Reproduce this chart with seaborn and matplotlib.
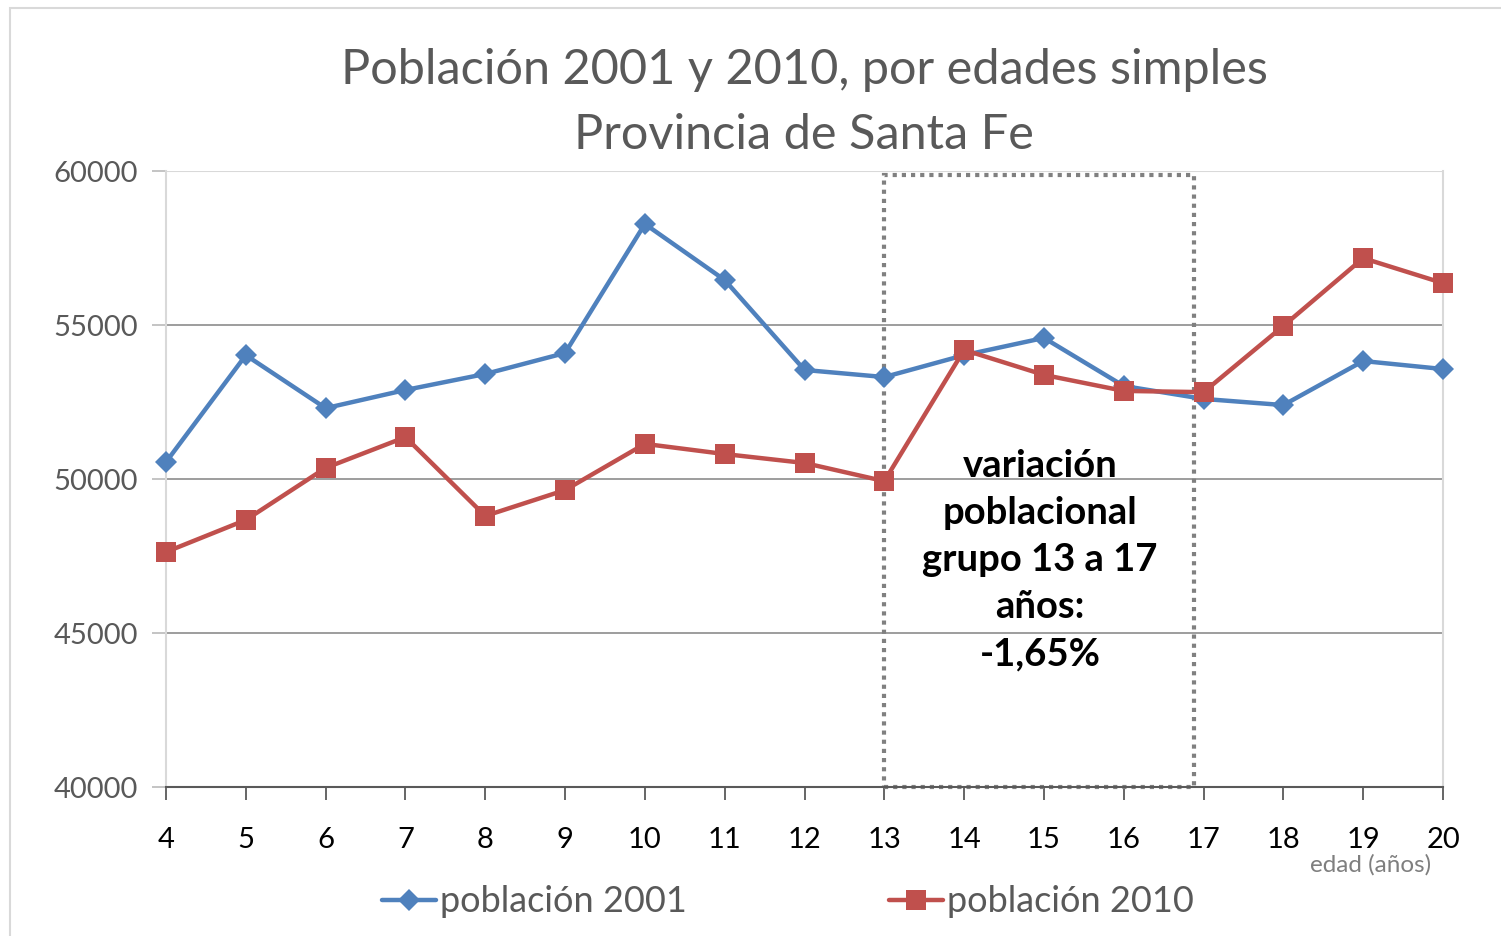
import pandas as pd
import seaborn as sns
import matplotlib.pyplot as plt
from matplotlib.patches import Rectangle
from matplotlib.lines import Line2D

# Data
edades = [4, 5, 6, 7, 8, 9, 10, 11, 12, 13, 14, 15, 16, 17, 18, 19, 20]
pob_2001 = [50550, 54020, 52300, 52890, 53410, 54090, 58280, 56460, 53540,
            53310, 54020, 54580, 53020, 52600, 52400, 53830, 53570]
pob_2010 = [47630, 48670, 50360, 51360, 48800, 49640, 51140, 50810, 50520,
            49930, 54190, 53380, 52860, 52820, 54970, 57170, 56360]
y_ticks = [40000, 45000, 50000, 55000, 60000]
series_names = ['población 2001', 'población 2010']
nota = 'variación\npoblacional\ngrupo 13 a 17\naños:\n-1,65%'

BLUE = '#4F81BD'
RED = '#C0504D'

df = pd.DataFrame({
    'edad': edades * 2,
    'poblacion': pob_2001 + pob_2010,
    'serie': [series_names[0]] * len(edades) + [series_names[1]] * len(edades),
})

sns.set_style('white')
plt.rcParams['font.family'] = ['Lato', 'DejaVu Sans']

fig = plt.figure(figsize=(15.01, 9.36), dpi=100)
ax = fig.add_axes([166 / 1501, 1 - 787 / 936, (1443 - 166) / 1501, (787 - 171) / 936])

# outer chart frame
fig.patches.append(Rectangle((10 / 1501, -0.01), 1.2, 1 - 8 / 936 + 0.01,
                             transform=fig.transFigure, fill=False,
                             edgecolor='#d9d9d9', linewidth=1.5))

sns.lineplot(data=df, x='edad', y='poblacion', hue='serie', style='serie',
             palette={series_names[0]: BLUE, series_names[1]: RED},
             markers={series_names[0]: 'D', series_names[1]: 's'},
             markersize=13, dashes=False, linewidth=3.2, markeredgewidth=0,
             legend=False, ax=ax, clip_on=False, zorder=3)
# bigger squares for 2010
for line, ms in zip(ax.get_lines(), [11, 15]):
    line.set_markersize(ms)
    line.set_clip_on(False)

ax.set_xlim(4, 20)
ax.set_ylim(40000, 60000)
ax.set_xticks(edades)
ax.set_yticks(y_ticks)
ax.set_yticklabels([str(v) for v in y_ticks])
ax.set_xlabel('')
ax.set_ylabel('')

for v in y_ticks[1:-1]:
    ax.axhline(v, color='#8c8c8c', linewidth=1.2, zorder=1)
ax.axhline(60000, color='#d9d9d9', linewidth=1.5, zorder=1)

for side in ['left', 'right']:
    ax.spines[side].set_color('#d9d9d9')
    ax.spines[side].set_linewidth(1.5)
ax.spines['top'].set_visible(False)
ax.spines['bottom'].set_color('#595959')
ax.spines['bottom'].set_linewidth(1.5)

ax.tick_params(axis='x', direction='out', length=9, width=1.3, color='#595959',
               labelsize=21, labelcolor='black', pad=20, bottom=True)
ax.tick_params(axis='y', direction='out', length=10, width=1.3, color='#bfbfbf',
               labelsize=21, labelcolor='#595959', pad=10, left=True)

# dotted box around the 13-17 group
ax.add_patch(Rectangle((13, 40000), 3.88, 19870, fill=False, edgecolor='#808080',
                       linestyle=(0, (1, 1.2)), linewidth=3, zorder=2, clip_on=False))
ax.text(14.95, 47370, nota, ha='center', va='center', fontsize=27.5,
        fontweight='bold', color='black', linespacing=1.47, zorder=4)

fig.text(804 / 1501, 1 - 70 / 936, 'Población 2001 y 2010, por edades simples',
         ha='center', va='center', fontsize=35, color='#595959')
fig.text(804 / 1501, 1 - 135 / 936, 'Provincia de Santa Fe',
         ha='center', va='center', fontsize=35, color='#595959')
fig.text(1371 / 1501, 1 - 865 / 936, 'edad (años)', ha='center', va='center',
         fontsize=17.5, color='#7f7f7f')

handles = [Line2D([], [], color=BLUE, marker='D', markersize=11, linewidth=3.2, markeredgewidth=0),
           Line2D([], [], color=RED, marker='s', markersize=15, linewidth=3.2, markeredgewidth=0)]
leg = fig.legend(handles, series_names, loc='center', bbox_to_anchor=(788 / 1501, 1 - 902 / 936),
                 ncol=2, frameon=False, fontsize=26, handlelength=1.5, handletextpad=0.1,
                 columnspacing=5.6)
for t in leg.get_texts():
    t.set_color('#595959')

plt.savefig('out.png', dpi=100)
plt.close()
